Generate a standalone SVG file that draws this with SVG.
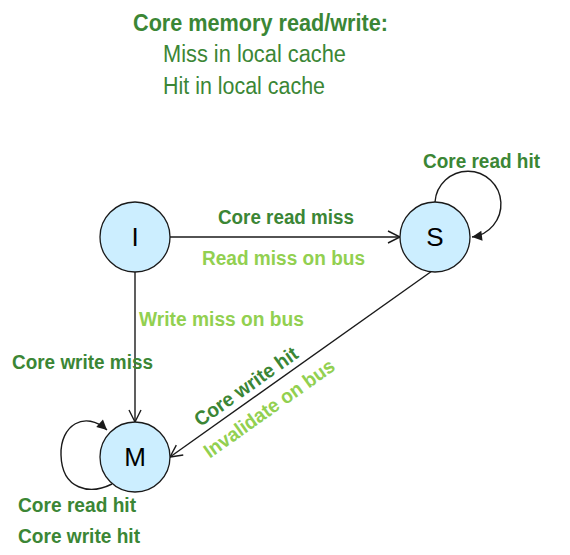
<svg xmlns="http://www.w3.org/2000/svg" width="570" height="555" viewBox="0 0 570 555">
<defs>
<style>
.node{fill:#cceeff;stroke:#1a1a1a;stroke-width:1.3}
.nl{font-family:"Liberation Sans",Arial,sans-serif;font-size:26px;fill:#000;text-anchor:middle}
.edge{fill:none;stroke:#1a1a1a;stroke-width:1.4}
.dk{font-family:"Liberation Sans",Arial,sans-serif;font-size:20px;font-weight:bold;fill:#3b8635}
.lt{font-family:"Liberation Sans",Arial,sans-serif;font-size:20px;font-weight:bold;fill:#92d050}
.leg{font-family:"Liberation Sans",Arial,sans-serif;font-size:23px;fill:#3b8635}
</style>
<marker id="open" markerUnits="userSpaceOnUse" markerWidth="16" markerHeight="16" refX="12" refY="6" orient="auto" overflow="visible">
<path d="M0,0 L12,6 L0,12" fill="none" stroke="#1a1a1a" stroke-width="1.4"/>
</marker>
<marker id="fill" markerUnits="userSpaceOnUse" markerWidth="14" markerHeight="14" refX="10" refY="5" orient="auto" overflow="visible">
<path d="M0,0 L10,5 L0,10 Z" fill="#1a1a1a"/>
</marker>
</defs>
<g id="legend">
<text class="leg" x="133" y="31" font-size="22" font-weight="bold" textLength="255" lengthAdjust="spacingAndGlyphs">Core memory read/write:</text>
<text class="leg" x="163" y="62" textLength="183" lengthAdjust="spacingAndGlyphs">Miss in local cache</text>
<text class="leg" x="163" y="94" textLength="162" lengthAdjust="spacingAndGlyphs">Hit in local cache</text>
</g>
<g id="connectors">
<line class="edge" x1="170" y1="237" x2="400" y2="237" marker-end="url(#open)"/>
<line class="edge" x1="135" y1="272" x2="135" y2="422" marker-end="url(#open)"/>
<line class="edge" x1="432" y1="271" x2="170" y2="457" marker-end="url(#open)"/>
<path class="edge" d="M435,202 A33,33 0 1 1 472,237" marker-end="url(#fill)"/>
<path class="edge" d="M112,484 C90,495 62,490 61,455 C60,425 85,410 107,430" marker-end="url(#fill)"/>
<text class="dk" x="218" y="224" textLength="136" lengthAdjust="spacingAndGlyphs">Core read miss</text>
<text class="lt" x="202" y="265" textLength="163" lengthAdjust="spacingAndGlyphs">Read miss on bus</text>
<text class="lt" x="139" y="326" textLength="165" lengthAdjust="spacingAndGlyphs">Write miss on bus</text>
<text class="dk" x="12" y="369" textLength="141" lengthAdjust="spacingAndGlyphs">Core write miss</text>
<text class="dk" x="423" y="168" textLength="117" lengthAdjust="spacingAndGlyphs">Core read hit</text>
<text class="dk" x="18" y="512" textLength="118" lengthAdjust="spacingAndGlyphs">Core read hit</text>
<text class="dk" x="18" y="543" textLength="122" lengthAdjust="spacingAndGlyphs">Core write hit</text>
<text class="dk" text-anchor="middle" transform="translate(250,392) rotate(-35.3)" textLength="122" lengthAdjust="spacingAndGlyphs">Core write hit</text>
<text class="lt" text-anchor="middle" transform="translate(273,414) rotate(-35.3)" textLength="155" lengthAdjust="spacingAndGlyphs">Invalidate on bus</text>
</g>
<g id="node-I">
<circle class="node" cx="135" cy="237" r="35"/>
<text class="nl" x="135" y="246">I</text>
</g>
<g id="node-S">
<circle class="node" cx="435" cy="237" r="35"/>
<text class="nl" x="435" y="246">S</text>
</g>
<g id="node-M">
<circle class="node" cx="135" cy="457" r="35"/>
<text class="nl" x="135" y="466">M</text>
</g>
</svg>
